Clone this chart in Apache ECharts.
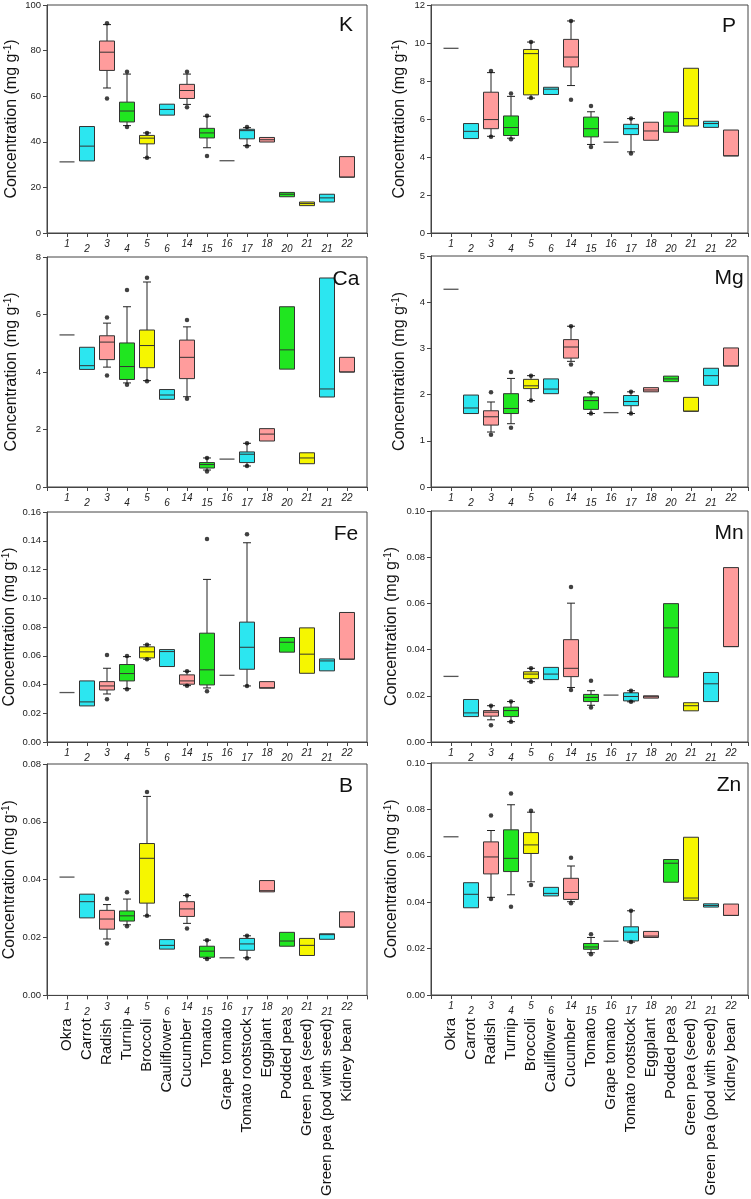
<!DOCTYPE html>
<html><head><meta charset="utf-8">
<script src="https://cdn.jsdelivr.net/npm/echarts@6/dist/echarts.min.js"></script>
<style>html,body{margin:0;padding:0;background:#fff}#c{width:751px;height:1199px}</style>
</head><body><div id="c"></div>
<script>
// ---------- data ----------
const tickLabels = ['1','2','3','4','5','6','14','15','16','17','18','20','21','21','22'];
const categories = ['Okra','Carrot','Radish','Turnip','Broccoli','Cauliflower','Cucumber','Tomato','Grape tomato','Tomato rootstock','Eggplant','Podded pea','Green pea (seed)','Green pea (pod with seed)','Kidney bean'];
const kinds = ['line','cyan','pink','green','yellow','cyan','pink','green','line','cyan','pink','green','yellow','cyan','pink'];

// [min, Q1, median, Q3, max]
const K_box = [[31.2,31.2,31.2,31.2,31.2],[31.6,31.6,38.1,46.7,46.7],[63.6,71.3,79.3,84.2,91.4],[47.1,48.7,53.5,57.4,69.7],[33.0,39.1,41.6,42.8,43.9],[51.7,51.7,54.2,56.5,56.5],[56.4,59.0,62.5,65.2,69.7],[37.4,41.7,43.9,45.9,51.2],[31.7,31.7,31.7,31.7,31.7],[38.3,41.3,44.9,45.5,46.2],[39.9,39.9,40.9,41.9,41.9],[15.9,15.9,17.0,17.8,17.8],[12.0,12.0,12.9,13.6,13.6],[13.6,13.6,15.4,17.0,17.0],[24.5,24.5,24.5,33.5,33.5]];
const K_out = [[2,92.0],[2,59.0],[3,70.7],[3,46.5],[4,43.9],[4,33.0],[6,70.7],[6,55.2],[7,51.4],[7,33.8],[9,46.5],[9,38.0]];

const P_box = [[9.72,9.72,9.72,9.72,9.72],[4.97,4.97,5.35,5.76,5.76],[5.09,5.49,5.97,7.41,8.44],[4.99,5.13,5.55,6.16,7.19],[7.10,7.27,9.44,9.66,10.05],[7.29,7.29,7.57,7.67,7.67],[7.76,8.74,9.26,10.19,11.16],[4.66,5.06,5.49,6.10,6.38],[4.78,4.78,4.78,4.78,4.78],[4.27,5.18,5.49,5.72,6.02],[4.88,4.88,5.37,5.83,5.83],[5.30,5.30,5.63,6.37,6.37],[5.63,5.63,6.02,8.67,8.67],[5.56,5.56,5.76,5.88,5.88],[4.06,4.06,4.06,5.42,5.42]];
const P_out = [[2,8.53],[2,5.06],[3,7.34],[3,4.94],[4,10.05],[4,7.10],[6,11.16],[6,7.01],[7,6.68],[7,4.52],[9,6.02],[9,4.19]];

const Ca_box = [[5.29,5.29,5.29,5.29,5.29],[4.09,4.09,4.22,4.86,4.86],[4.17,4.43,5.04,5.26,5.70],[3.62,3.74,4.19,5.01,6.27],[3.70,4.15,4.92,5.46,7.13],[3.05,3.05,3.20,3.39,3.39],[3.14,3.77,4.51,5.11,5.57],[0.59,0.66,0.78,0.85,1.01],[0.97,0.97,0.97,0.97,0.97],[0.73,0.85,1.14,1.22,1.52],[1.60,1.60,1.84,2.03,2.03],[4.10,4.10,4.77,6.27,6.27],[0.81,0.81,1.01,1.19,1.19],[3.13,3.13,3.41,7.27,7.27],[4.00,4.00,4.00,4.51,4.51]];
const Ca_out = [[2,5.90],[2,3.88],[3,6.85],[3,3.56],[4,7.28],[4,3.68],[6,5.81],[6,3.07],[7,1.01],[7,0.54],[9,1.52],[9,0.73]];

const Mg_box = [[4.28,4.28,4.28,4.28,4.28],[1.59,1.59,1.71,1.99,1.99],[1.19,1.34,1.52,1.65,1.84],[1.37,1.59,1.70,2.02,2.35],[1.87,2.13,2.19,2.33,2.41],[2.02,2.02,2.12,2.34,2.34],[2.72,2.79,3.03,3.19,3.48],[1.59,1.68,1.87,1.95,2.04],[1.61,1.61,1.61,1.61,1.61],[1.59,1.76,1.85,1.98,2.06],[2.06,2.06,2.10,2.15,2.15],[2.28,2.28,2.34,2.40,2.40],[1.64,1.64,1.64,1.94,1.94],[2.20,2.20,2.41,2.57,2.57],[2.62,2.62,2.62,3.01,3.01]];
const Mg_out = [[2,2.05],[2,1.13],[3,2.49],[3,1.28],[4,2.41],[4,1.87],[6,3.48],[6,2.65],[7,2.04],[7,1.59],[9,2.06],[9,1.59]];

const Fe_box = [[0.0344,0.0344,0.0344,0.0344,0.0344],[0.0251,0.0251,0.0279,0.0425,0.0425],[0.0334,0.0362,0.0390,0.0420,0.0513],[0.0371,0.0425,0.0476,0.0539,0.0594],[0.0576,0.0585,0.0627,0.0662,0.0676],[0.0525,0.0525,0.0629,0.0643,0.0643],[0.0392,0.0402,0.0425,0.0467,0.0492],[0.0376,0.0397,0.0502,0.0757,0.1131],[0.0464,0.0464,0.0464,0.0464,0.0464],[0.0390,0.0506,0.0659,0.0834,0.1386],[0.0374,0.0374,0.0378,0.0420,0.0420],[0.0625,0.0625,0.0694,0.0727,0.0727],[0.0478,0.0478,0.0611,0.0794,0.0794],[0.0495,0.0495,0.0564,0.0578,0.0578],[0.0576,0.0576,0.0576,0.0901,0.0901]];
const Fe_out = [[2,0.0606],[2,0.0297],[3,0.0599],[3,0.0367],[4,0.0676],[4,0.0576],[6,0.0492],[6,0.0392],[7,0.1412],[7,0.0353],[9,0.1446],[9,0.0390]];

const Mn_box = [[0.0284,0.0284,0.0284,0.0284,0.0284],[0.0110,0.0110,0.0126,0.0184,0.0184],[0.0096,0.0112,0.0129,0.0136,0.0157],[0.0088,0.0110,0.0136,0.0151,0.0175],[0.0261,0.0274,0.0294,0.0304,0.0319],[0.0270,0.0270,0.0294,0.0323,0.0323],[0.0236,0.0283,0.0319,0.0443,0.0601],[0.0159,0.0175,0.0193,0.0206,0.0222],[0.0203,0.0203,0.0203,0.0203,0.0203],[0.0174,0.0178,0.0197,0.0213,0.0222],[0.0190,0.0190,0.0196,0.0200,0.0200],[0.0281,0.0281,0.0494,0.0599,0.0599],[0.0135,0.0135,0.0157,0.0170,0.0170],[0.0175,0.0175,0.0252,0.0301,0.0301],[0.0413,0.0413,0.0413,0.0755,0.0755]];
const Mn_out = [[2,0.0157],[2,0.0072],[3,0.0175],[3,0.0088],[4,0.0319],[4,0.0261],[6,0.0671],[6,0.0225],[7,0.0265],[7,0.0149],[9,0.0222],[9,0.0174]];

const B_box = [[0.0409,0.0409,0.0409,0.0409,0.0409],[0.0268,0.0268,0.0324,0.0350,0.0350],[0.0195,0.0229,0.0264,0.0294,0.0314],[0.0244,0.0257,0.0275,0.0292,0.0333],[0.0275,0.0319,0.0474,0.0525,0.0688],[0.0160,0.0160,0.0173,0.0193,0.0193],[0.0249,0.0273,0.0299,0.0324,0.0345],[0.0128,0.0132,0.0153,0.0170,0.0191],[0.0130,0.0130,0.0130,0.0130,0.0130],[0.0130,0.0156,0.0178,0.0197,0.0206],[0.0358,0.0358,0.0362,0.0397,0.0397],[0.0170,0.0170,0.0188,0.0218,0.0218],[0.0138,0.0138,0.0173,0.0197,0.0197],[0.0194,0.0194,0.0210,0.0213,0.0213],[0.0236,0.0236,0.0236,0.0289,0.0289]];
const B_out = [[2,0.0334],[2,0.0179],[3,0.0357],[3,0.0239],[4,0.0703],[4,0.0275],[6,0.0345],[6,0.0231],[7,0.0191],[7,0.0126],[9,0.0206],[9,0.0128]];

const Zn_box = [[0.0682,0.0682,0.0682,0.0682,0.0682],[0.0376,0.0376,0.0434,0.0484,0.0484],[0.0421,0.0522,0.0595,0.0660,0.0709],[0.0432,0.0532,0.0589,0.0712,0.0820],[0.0488,0.0610,0.0647,0.0700,0.0788],[0.0427,0.0427,0.0438,0.0464,0.0464],[0.0402,0.0412,0.0442,0.0503,0.0556],[0.0182,0.0197,0.0207,0.0222,0.0248],[0.0232,0.0232,0.0232,0.0232,0.0232],[0.0228,0.0233,0.0271,0.0294,0.0363],[0.0248,0.0248,0.0254,0.0274,0.0274],[0.0486,0.0486,0.0568,0.0584,0.0584],[0.0408,0.0408,0.0418,0.0680,0.0680],[0.0379,0.0379,0.0386,0.0393,0.0393],[0.0343,0.0343,0.0343,0.0392,0.0392]];
const Zn_out = [[2,0.0774],[2,0.0414],[3,0.0869],[3,0.0380],[4,0.0794],[4,0.0474],[6,0.0592],[6,0.0395],[7,0.0262],[7,0.0176],[9,0.0363],[9,0.0228]];

// ---------- styles / layout ----------
const FONT = '"Liberation Sans", Arial, sans-serif';
const palette = {cyan:'#2ce6f0', pink:'#ff9c9c', green:'#20e620', yellow:'#f6f600', line:'#555555'};
const cols = [
  {left:47, width:320, xmax:16, labelX:346},
  {left:431, width:317, xmax:15.85, labelX:729}
];
const panels = [
  {name:'K',  box:K_box,  out:K_out,  max:100,  step:20,   dec:0, col:0, top:3,   h:230, gap:26},
  {name:'P',  box:P_box,  out:P_out,  max:12,   step:2,    dec:0, col:1, top:4,   h:229, gap:22},
  {name:'Ca', box:Ca_box, out:Ca_out, max:8,    step:2,    dec:0, col:0, top:257, h:230, gap:26},
  {name:'Mg', box:Mg_box, out:Mg_out, max:5,    step:1,    dec:0, col:1, top:256, h:231, gap:22},
  {name:'Fe', box:Fe_box, out:Fe_out, max:0.16, step:0.02, dec:2, col:0, top:512, h:230, gap:28},
  {name:'Mn', box:Mn_box, out:Mn_out, max:0.10, step:0.02, dec:2, col:1, top:511, h:231, gap:30},
  {name:'B',  box:B_box,  out:B_out,  max:0.08, step:0.02, dec:2, col:0, top:764, h:232, gap:28, names:true},
  {name:'Zn', box:Zn_box, out:Zn_out, max:0.10, step:0.02, dec:2, col:1, top:763, h:232, gap:30, names:true}
];

function renderBox(params, api) {
  const i = params.dataIndex;
  const x = api.value(0);
  const v = [1,2,3,4,5].map(k => api.value(k));
  const p = v.map(val => api.coord([x, val]));
  const cx = Math.round(p[0][0]);
  const hw = 7.5, cw = 4;
  const kind = kinds[i];
  const ln = {stroke:'#222', lineWidth:1};
  const children = [];
  if (kind === 'line') {
    children.push({type:'line', shape:{x1:cx-hw, y1:p[2][1], x2:cx+hw, y2:p[2][1]}, style:{stroke:palette.line, lineWidth:1.3}});
    return {type:'group', children};
  }
  if (v[0] < v[1]) {
    children.push({type:'line', shape:{x1:cx, y1:p[1][1], x2:cx, y2:p[0][1]}, style:ln});
    children.push({type:'line', shape:{x1:cx-cw, y1:p[0][1], x2:cx+cw, y2:p[0][1]}, style:ln});
  }
  if (v[4] > v[3]) {
    children.push({type:'line', shape:{x1:cx, y1:p[3][1], x2:cx, y2:p[4][1]}, style:ln});
    children.push({type:'line', shape:{x1:cx-cw, y1:p[4][1], x2:cx+cw, y2:p[4][1]}, style:ln});
  }
  children.push({type:'rect', shape:{x:cx-hw, y:p[3][1], width:2*hw, height:p[1][1]-p[3][1]},
    style:{fill:palette[kind], stroke:'#333', lineWidth:1}});
  children.push({type:'line', shape:{x1:cx-hw, y1:p[2][1], x2:cx+hw, y2:p[2][1]}, style:{stroke:'#333', lineWidth:1}});
  return {type:'group', children};
}

const grid = [], xAxis = [], yAxis = [], series = [], title = [];
panels.forEach((pn, g) => {
  const c = cols[pn.col];
  grid.push({left:c.left, top:pn.top, width:c.width, height:pn.h, show:true, borderColor:'#444', borderWidth:1, containLabel:false});
  const xi = xAxis.length;
  xAxis.push({
    type:'value', gridIndex:g, min:0, max:c.xmax, interval:1, position:'bottom',
    axisLine:{show:true, lineStyle:{color:'#444'}},
    axisTick:{show:true, length:4, lineStyle:{color:'#444'}},
    splitLine:{show:false},
    axisLabel:{
      margin:5.5, showMinLabel:true, showMaxLabel:true,
      formatter:(v) => {
        if (Math.abs(v - Math.round(v)) > 1e-6) return '';
        const k = Math.round(v);
        if (k < 1 || k > tickLabels.length) return '';
        return (k % 2 === 1 ? '{u|' : '{l|') + tickLabels[k-1] + '}';
      },
      rich:{
        u:{fontSize:10, fontStyle:'italic', fontFamily:FONT, color:'#222', lineHeight:12},
        l:{fontSize:10, fontStyle:'italic', fontFamily:FONT, color:'#222', lineHeight:22}
      }
    }
  });
  if (pn.names) {
    xAxis.push({
      type:'value', gridIndex:g, min:0, max:c.xmax, interval:1, position:'bottom',
      axisLine:{show:false}, axisTick:{show:false}, splitLine:{show:false},
      axisLabel:{
        margin:23, rotate:90, fontSize:15, fontFamily:FONT, color:'#111',
        showMinLabel:true, showMaxLabel:true,
        formatter:(v) => {
          if (Math.abs(v - Math.round(v)) > 1e-6) return '';
          const k = Math.round(v);
          return (k >= 1 && k <= categories.length) ? categories[k-1] : '';
        }
      }
    });
  }
  yAxis.push({
    type:'value', gridIndex:g, min:0, max:pn.max, interval:pn.step,
    axisLine:{show:true, lineStyle:{color:'#444'}},
    axisTick:{show:true, length:4, lineStyle:{color:'#444'}},
    splitLine:{show:false},
    axisLabel:{margin:6, fontSize:9.5, fontFamily:FONT, color:'#222', formatter:(v) => v.toFixed(pn.dec)},
    name:'Concentration (mg g{sup|-1})', nameLocation:'middle', nameGap:pn.gap, nameMoveOverlap:false,
    nameTextStyle:{fontSize:16, fontFamily:FONT, color:'#111',
      rich:{sup:{fontSize:10, fontFamily:FONT, color:'#111', verticalAlign:'top', lineHeight:18}}}
  });
  series.push({
    type:'custom', xAxisIndex:xi, yAxisIndex:g, renderItem:renderBox,
    encode:{x:0, y:[1,2,3,4,5]},
    data:pn.box.map((b, i) => [i + 1].concat(b)),
    silent:true, z:2
  });
  series.push({
    type:'scatter', xAxisIndex:xi, yAxisIndex:g, symbol:'circle', symbolSize:4.5,
    itemStyle:{color:'#111'}, data:pn.out.map(o => [o[0] + 1, o[1]]), silent:true, z:3
  });
  title.push({text:pn.name, left:c.labelX, top:pn.top + 12, textAlign:'center', padding:0,
    textStyle:{fontSize:21, fontWeight:'normal', fontFamily:FONT, color:'#111'}});
});

const chart = echarts.init(document.getElementById('c'), null, {renderer:'canvas'});
chart.setOption({animation:false, backgroundColor:'#fff', title, grid, xAxis, yAxis, series});
</script>
</body></html>
